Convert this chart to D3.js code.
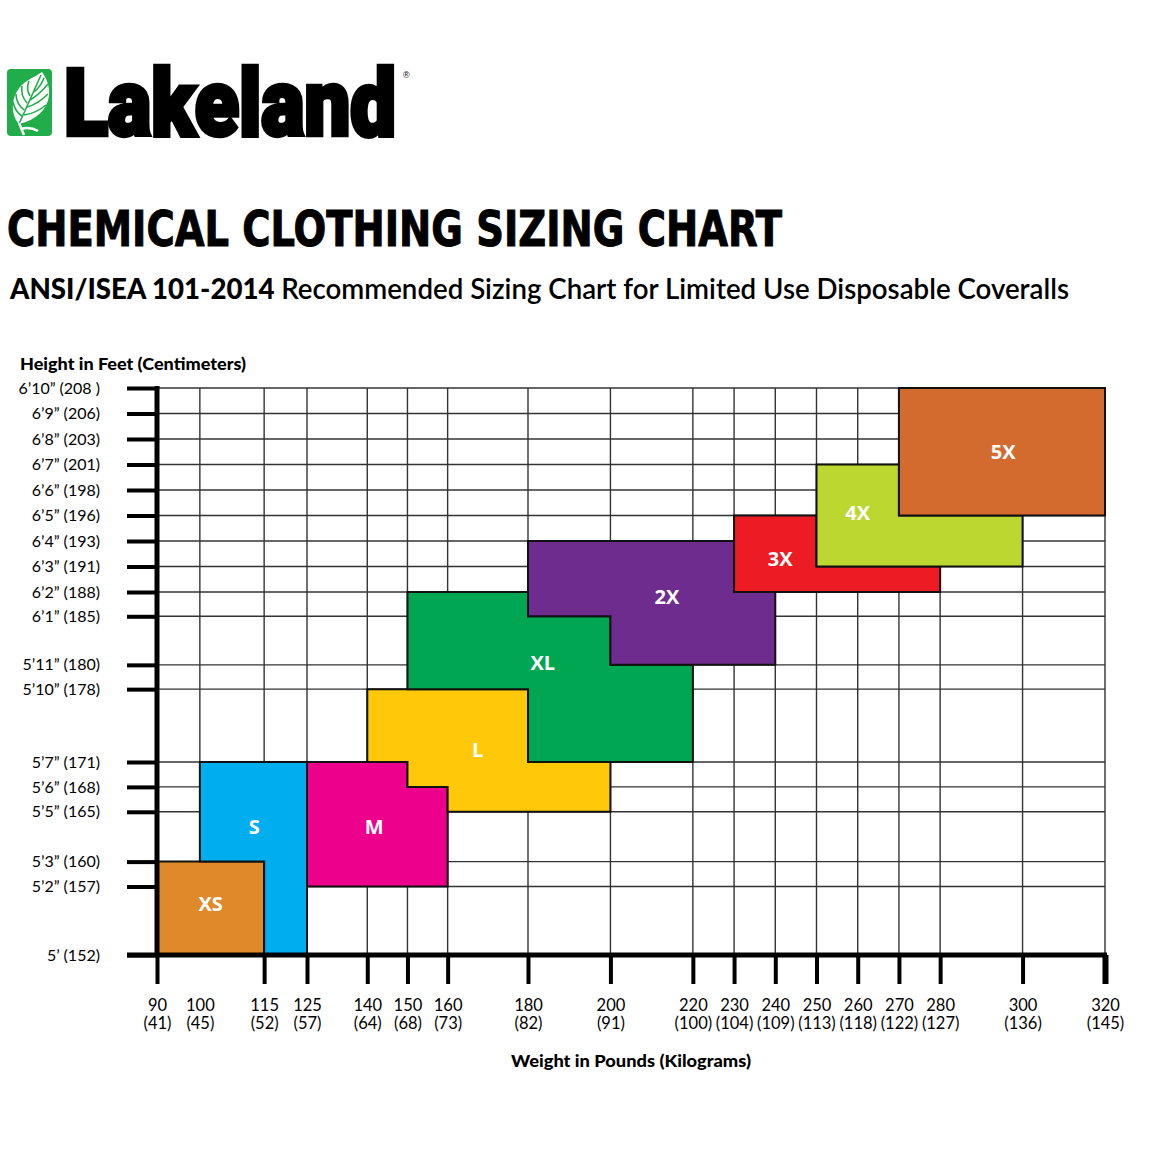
<!DOCTYPE html>
<html>
<head>
<meta charset="utf-8">
<script src="https://cdn.jsdelivr.net/npm/d3@7"></script>
<style>
  body { margin: 0; background: #fff; }
  svg { display: block; }
</style>
</head>
<body>
<div class="chart"></div>
<script>
// weight axis (lb / kg)
const weights   = [90, 100, 115, 125, 140, 150, 160, 180, 200, 220, 230, 240, 250, 260, 270, 280, 300, 320]
const weightsKg = [41, 45, 52, 57, 64, 68, 73, 82, 91, 100, 104, 109, 113, 118, 122, 127, 136, 145]
const noTick    = [100]

// height axis (inches / label)
const heights = [60, 62, 63, 65, 66, 67, 70, 71, 73, 74, 75, 76, 77, 78, 79, 80, 81, 82]
const heightLabels = [
  '5’ (152)', '5’2” (157)', '5’3” (160)', '5’5” (165)', '5’6” (168)', '5’7” (171)',
  '5’10” (178)', '5’11” (180)', '6’1” (185)', '6’2” (188)', '6’3” (191)', '6’4” (193)',
  '6’5” (196)', '6’6” (198)', '6’7” (201)', '6’8” (203)', '6’9” (206)', '6’10” (208 )'
]

// size regions, [weight, height] corners
const sizeNames  = ['XS', 'S', 'M', 'L', 'XL', '2X', '3X', '4X', '5X']
const sizeColors = ['#e0892b', '#00aeef', '#ec008c', '#ffc90a', '#00a651', '#6e2c8f', '#ed1c24', '#bdd731', '#d26b2d']
const sizeShapes = [
  [[90,60],[115,60],[115,63],[90,63]],
  [[100,63],[115,63],[115,60],[125,60],[125,67],[100,67]],
  [[125,62],[160,62],[160,66],[150,66],[150,67],[125,67]],
  [[140,67],[150,67],[150,66],[160,66],[160,65],[200,65],[200,67],[180,67],[180,70],[140,70]],
  [[150,70],[180,70],[180,67],[220,67],[220,71],[200,71],[200,73],[180,73],[180,74],[150,74]],
  [[180,73],[200,73],[200,71],[240,71],[240,74],[230,74],[230,76],[180,76]],
  [[230,74],[280,74],[280,75],[250,75],[250,77],[230,77]],
  [[250,75],[300,75],[300,77],[270,77],[270,79],[250,79]],
  [[270,77],[320,77],[320,82],[270,82]]
]
const sizeLabelAt = [[102.5,61.5],[112.7,64.4],[141.7,64.4],[167.5,67.5],[183.6,71.1],[213.7,73.8],[241.2,75.3],[260,77.1],[295.3,79.5]]

const W = 1150, H = 1150

const svg = d3.select('.chart').append('svg')
  .attr('width', W).attr('height', H)

// scales (chart is hand drawn, so a few knots)
const x = d3.scaleLinear().domain([90, 125, 180, 320]).range([157, 307, 528, 1105])
const y = d3.scaleLinear().domain([60, 62, 67, 74, 82]).range([955, 886.5, 762, 592, 388])

// ---- logo
const logo = svg.append('g').attr('transform', 'translate(7,69)')
logo.append('rect').attr('width', 45).attr('height', 67).attr('rx', 4).attr('fill', '#22ad4b')
logo.append('path')
  .attr('d', 'M12,55 C2,44 4,22 20,12 C26,8 31,6 35,3 C39,9 43,16 42,27 C40,41 29,51 12,55 Z')
  .attr('fill', '#fff')
logo.append('path')
  .attr('d', 'M12,55 C18,42 25,26 34,6 M15,47 C9,43 7,38 6,33 M17,41 C11,36 9,30 9,25 M20,34 C15,28 14,22 15,17 M23,27 C20,22 20,17 22,12 M17,46 C25,45 33,41 39,36 M20,38 C28,36 35,31 41,25 M23,31 C30,27 36,21 41,15 M27,23 C32,19 35,14 37,9')
  .attr('fill', 'none').attr('stroke', '#22ad4b').attr('stroke-width', 1.6)
logo.append('path')
  .attr('d', 'M12,54 C14,58 15,62 17,66 M14,60 C20,58 26,59 31,62')
  .attr('fill', 'none').attr('stroke', '#fff').attr('stroke-width', 2.5)

// word mark, squeezed to width with a transform
const brand = svg.append('g')
const brandText = brand.append('text')
  .attr('font-family', 'Roboto, "DejaVu Sans", sans-serif')
  .attr('font-weight', 900).attr('font-size', 92)
  .attr('stroke', '#000').attr('stroke-width', 4.5).attr('stroke-linejoin', 'miter')
  .text('Lakeland')
const natural = brandText.node().getComputedTextLength()
brand.attr('transform', `translate(64,135) scale(${332 / natural},1)`)

svg.append('text')
  .attr('x', 403).attr('y', 78)
  .attr('font-family', 'Arial, sans-serif').attr('font-size', 9)
  .text('®')

// ---- titles
svg.append('text')
  .attr('x', 7).attr('y', 246)
  .attr('font-family', '"DejaVu Sans Condensed", "DejaVu Sans", sans-serif')
  .attr('font-stretch', 'condensed')
  .attr('font-weight', 'bold').attr('font-size', 49)
  .attr('textLength', 775).attr('lengthAdjust', 'spacingAndGlyphs')
  .attr('stroke', '#000').attr('stroke-width', 1)
  .text('CHEMICAL CLOTHING SIZING CHART')

const sub = svg.append('text')
  .attr('x', 10).attr('y', 299)
  .attr('font-family', 'Lato, "Open Sans", sans-serif')
  .attr('font-size', 28)
  .attr('textLength', 1059).attr('lengthAdjust', 'spacingAndGlyphs')
sub.append('tspan').attr('font-weight', 900).text('ANSI/ISEA 101-2014 ')
sub.append('tspan').attr('font-weight', 600).text('Recommended Sizing Chart for Limited Use Disposable Coveralls')

// ---- grid
const grid = svg.append('g').attr('stroke', '#333').attr('stroke-width', 1.4)
grid.selectAll('.h').data(heights).enter().append('line')
  .attr('x1', x(90)).attr('x2', x(320))
  .attr('y1', d => y(d)).attr('y2', d => y(d))
grid.selectAll('.v').data(weights).enter().append('line')
  .attr('x1', d => x(d)).attr('x2', d => x(d))
  .attr('y1', y(60)).attr('y2', y(82))

// ---- size regions
const shape = d3.line().x(d => x(d[0])).y(d => y(d[1])).curve(d3.curveLinearClosed)
svg.append('g').selectAll('path').data(sizeShapes).enter().append('path')
  .attr('d', shape)
  .attr('fill', (d, i) => sizeColors[i])
  .attr('stroke', '#111').attr('stroke-width', 2)

svg.append('g').selectAll('text').data(sizeNames).enter().append('text')
  .attr('x', (d, i) => x(sizeLabelAt[i][0]))
  .attr('y', (d, i) => y(sizeLabelAt[i][1]))
  .attr('text-anchor', 'middle').attr('dominant-baseline', 'central')
  .attr('font-family', '"Open Sans", Lato, sans-serif')
  .attr('font-weight', 700).attr('font-size', 20)
  .attr('fill', '#fff')
  .text(d => d)

// ---- axes
const yAxis = d3.axisLeft(y)
  .tickValues(heights)
  .tickSize(30).tickSizeOuter(0).tickPadding(27)
  .tickFormat((d, i) => heightLabels[i])
const gy = svg.append('g').attr('transform', `translate(${x(90)},0)`).call(yAxis)
gy.select('.domain').attr('stroke', '#000').attr('stroke-width', 5)
  .attr('d', `M0,${y(82) - 2}V${y(60) + 2}`)
gy.selectAll('.tick line').attr('stroke', '#000').attr('stroke-width', 4)
gy.selectAll('.tick text')
  .attr('font-family', 'Lato, "Open Sans", sans-serif').attr('font-size', 16).attr('fill', '#000')

const xAxis = d3.axisBottom(x)
  .tickValues(weights)
  .tickSize(29).tickSizeOuter(0).tickPadding(15)
  .tickFormat(d => d)
const gx = svg.append('g').attr('transform', `translate(0,${y(60)})`).call(xAxis)
gx.select('.domain').attr('stroke', '#000').attr('stroke-width', 5)
  .attr('d', `M${x(90) - 30},0H${x(320) + 2}`)
gx.selectAll('.tick line').attr('stroke', '#000')
  .attr('stroke-width', d => d === 320 ? 6 : 4)
  .attr('opacity', d => noTick.includes(d) ? 0 : 1)
gx.selectAll('.tick text').each(function (d, i) {
  const t = d3.select(this).text(null)
    .attr('font-family', 'Lato, "Open Sans", sans-serif').attr('font-size', 16.5).attr('fill', '#000')
  t.append('tspan').attr('x', 0).text(d)
  t.append('tspan').attr('x', 0).attr('dy', '1.12em').text('(' + weightsKg[i] + ')')
})

// ---- axis titles
svg.append('text')
  .attr('x', 20).attr('y', 370)
  .attr('font-family', 'Lato, "Open Sans", sans-serif')
  .attr('font-weight', 900).attr('font-size', 16)
  .attr('textLength', 226).attr('lengthAdjust', 'spacingAndGlyphs')
  .text('Height in Feet (Centimeters)')
svg.append('text')
  .attr('x', 511).attr('y', 1067)
  .attr('font-family', 'Lato, "Open Sans", sans-serif')
  .attr('font-weight', 900).attr('font-size', 16.5)
  .attr('textLength', 240).attr('lengthAdjust', 'spacingAndGlyphs')
  .text('Weight in Pounds (Kilograms)')
</script>
</body>
</html>
